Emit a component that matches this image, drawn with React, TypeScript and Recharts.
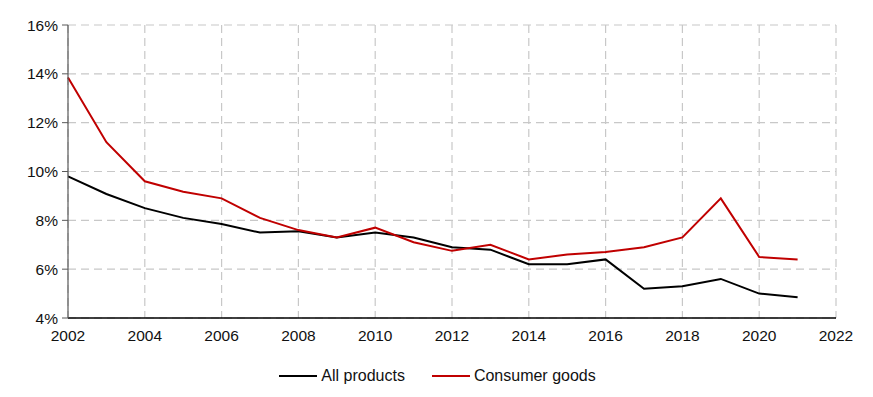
import React from "react";
import { LineChart, Line, XAxis, YAxis, CartesianGrid, Legend } from "recharts";

const years = [2002, 2003, 2004, 2005, 2006, 2007, 2008, 2009, 2010, 2011, 2012, 2013, 2014, 2015, 2016, 2017, 2018, 2019, 2020, 2021];
const allProducts = [9.8, 9.08, 8.5, 8.1, 7.85, 7.5, 7.55, 7.3, 7.5, 7.3, 6.9, 6.8, 6.2, 6.2, 6.4, 5.2, 5.3, 5.6, 5.0, 4.85];
const consumerGoods = [13.85, 11.2, 9.6, 9.17, 8.9, 8.1, 7.6, 7.3, 7.7, 7.1, 6.75, 7.0, 6.4, 6.6, 6.7, 6.9, 7.3, 8.9, 6.5, 6.4];
const xTicks = [2002, 2004, 2006, 2008, 2010, 2012, 2014, 2016, 2018, 2020, 2022];
const yTicks = [4, 6, 8, 10, 12, 14, 16];

const data = years.map((y, i) => ({ year: y, all: allProducts[i], consumer: consumerGoods[i] }));

const font = "'Liberation Sans', Arial, sans-serif";

const LegendContent = (props: any) => {
  const { payload = [] } = props;
  return (
    <div style={{ display: "flex", justifyContent: "center", alignItems: "center", gap: 27, paddingLeft: 31, fontSize: 16, lineHeight: "18px", fontFamily: font, color: "#111" }}>
      {payload.map((p: any) => (
        <div key={p.value} style={{ display: "flex", alignItems: "center", gap: 4 }}>
          <svg width={38} height={10}>
            <line x1={0} y1={5} x2={38} y2={5} stroke={p.color} strokeWidth={2} />
          </svg>
          <span>{p.value}</span>
        </div>
      ))}
    </div>
  );
};

export default function App() {
  return (
    <div style={{ fontFamily: font }}>
      <LineChart width={857} height={385} data={data} margin={{ top: 17, right: 29, left: 0, bottom: 8 }}>
        <CartesianGrid stroke="#c8c8c8" strokeDasharray="8 5" strokeWidth={1.2} horizontalValues={yTicks} verticalValues={xTicks} />
        <XAxis
          dataKey="year"
          type="number"
          domain={[2002, 2022]}
          ticks={xTicks}
          tickLine={false}
          axisLine={{ stroke: "#000", strokeWidth: 1.5 }}
          tick={{ fill: "#111", fontSize: 15.5, fontFamily: font }}
          tickMargin={6}
          height={49}
        />
        <YAxis
          type="number"
          domain={[4, 16]}
          ticks={yTicks}
          width={60}
          tickFormatter={(v) => `${v}%`}
          axisLine={{ stroke: "#595959", strokeWidth: 1.2 }}
          tickLine={{ stroke: "#595959" }}
          tickSize={6}
          tick={{ fill: "#111", fontSize: 15.5, fontFamily: font }}
          tickMargin={4}
        />
        <Legend verticalAlign="bottom" content={<LegendContent />} />
        <Line type="linear" dataKey="all" name="All products" stroke="#000000" strokeWidth={2} dot={false} isAnimationActive={false} />
        <Line type="linear" dataKey="consumer" name="Consumer goods" stroke="#c00000" strokeWidth={2} dot={false} isAnimationActive={false} />
      </LineChart>
    </div>
  );
}
